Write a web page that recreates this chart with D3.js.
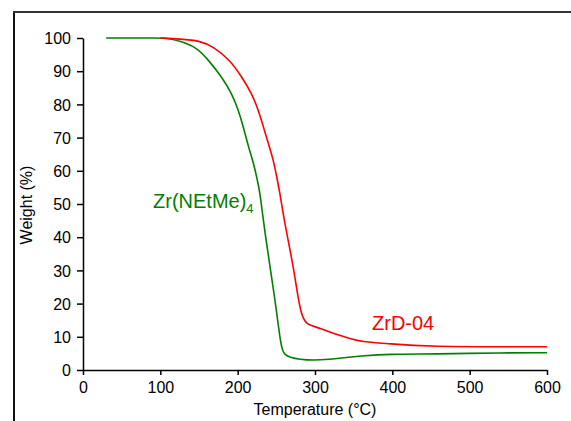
<!DOCTYPE html>
<html><head><meta charset="utf-8">
<script src="https://cdn.jsdelivr.net/npm/d3@7"></script>
<style>body{margin:0;background:#fff;} svg{display:block;font-family:Arial,"Liberation Sans",sans-serif;}</style>
</head><body>
<script>
const xTicks = [0,100,200,300,400,500,600];
const yTicks = [0,10,20,30,40,50,60,70,80,90,100];
const greenT = [30,100,110,125,147,162,179.4,192.3,200.9,207.3,213.8,220.3,224.6,228.9,231.5,235.4,241.8,248.3,253.9,257,260,267.7,280,298,319,332,358,397,453,543,600];
const greenW = [100,100,99.9,99.1,97.2,93.4,88.3,83.3,78.3,73.3,67.3,62.5,58.2,53.2,48.2,41.2,31.1,21.1,11.0,6.5,4.7,3.8,3.2,2.9,3.2,3.6,4.2,4.8,4.8,5.2,5.2];
const redT = [100,125,151,168.5,190,205.2,218.2,226.7,233.2,239.6,246.1,250.5,254.7,258,263.4,272,278.5,282.8,287,291.4,306.5,330,345,360,393,440,600];
const redW = [100,99.7,99.2,97.4,93.4,88.3,83.3,78.3,73.3,68.3,63.3,58.2,53.2,48.2,41.2,31.1,21.1,16.6,14.6,13.6,12.6,10.5,9.5,8.5,8.0,7.0,7.0];

const W=571,H=421;
const svg=d3.select("body").append("svg").attr("width",W).attr("height",H);
// frame
svg.append("line").attr("x1",14).attr("x2",14).attr("y1",12).attr("y2",H).attr("stroke","#111").attr("stroke-width",2);
svg.append("line").attr("x1",13).attr("x2",W).attr("y1",12).attr("y2",12).attr("stroke","#333").attr("stroke-width",2);

const x=d3.scaleLinear().domain([0,600]).range([83,547]);
const y=d3.scaleLinear().domain([0,100]).range([370,38]);

const xa=svg.append("g").attr("transform","translate(0,370)")
  .call(d3.axisBottom(x).tickValues(xTicks).tickSize(5).tickSizeOuter(0).tickPadding(7));
const ya=svg.append("g").attr("transform","translate(83,0)")
  .call(d3.axisLeft(y).tickValues(yTicks).tickSize(6).tickSizeOuter(0).tickPadding(6));
[xa,ya].forEach(a=>{
  a.selectAll("path,line").attr("stroke","#000").attr("stroke-width",1.5);
  a.selectAll("text").attr("font-size",16).attr("fill","#000").attr("font-family","Arial,'Liberation Sans',sans-serif");
});
ya.selectAll("text").attr("dy","0.36em");

svg.append("text").attr("x",315).attr("y",415).attr("text-anchor","middle").attr("font-size",16).text("Temperature (°C)");
svg.append("text").attr("transform","translate(32,205) rotate(-90)").attr("text-anchor","middle").attr("font-size",16).text("Weight (%)");

const line=d3.line().x(d=>x(d[0])).y(d=>y(d[1])).curve(d3.curveBasis);
svg.append("path").datum(greenT.map((t,i)=>[t,greenW[i]])).attr("d",line).attr("fill","none").attr("stroke","#008000").attr("stroke-width",1.6);
svg.append("path").datum(redT.map((t,i)=>[t,redW[i]])).attr("d",line).attr("fill","none").attr("stroke","#ff0000").attr("stroke-width",1.6);

const gl=svg.append("text").attr("x",153).attr("y",208).attr("font-size",20).attr("fill","#008000");
gl.append("tspan").text("Zr(NEtMe)");
gl.append("tspan").attr("font-size",13).attr("dy",5).text("4");
svg.append("text").attr("x",372).attr("y",330).attr("font-size",20).attr("fill","#ff0000").text("ZrD-04");
</script>
</body></html>
